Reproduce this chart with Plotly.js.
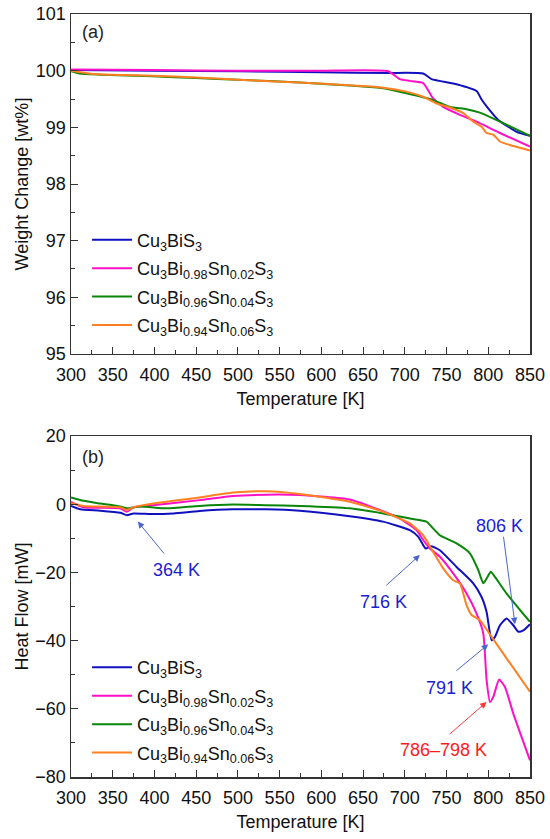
<!DOCTYPE html>
<html>
<head>
<meta charset="utf-8">
<script src="https://cdn.plot.ly/plotly-3.0.1.min.js"></script>
<style>html,body{margin:0;padding:0;background:#fff;}#chart{width:550px;height:839px;}</style>
</head>
<body>
<div id="chart"></div>
<script>
// ---- Series names ----
const names = [
  'Cu<sub>3</sub>BiS<sub>3</sub>',
  'Cu<sub>3</sub>Bi<sub>0.98</sub>Sn<sub>0.02</sub>S<sub>3</sub>',
  'Cu<sub>3</sub>Bi<sub>0.96</sub>Sn<sub>0.04</sub>S<sub>3</sub>',
  'Cu<sub>3</sub>Bi<sub>0.94</sub>Sn<sub>0.06</sub>S<sub>3</sub>'
];
const colors = ['#1010c0', '#ff10c8', '#0a860a', '#ff8020'];

// ---- (a) Weight change [wt%] ----
const tgT0 = [300, 400, 500, 600, 680, 722, 732, 762, 786, 792, 798, 812, 834, 850];
const tgW0 = [100.01, 100.0, 99.99, 99.97, 99.96, 99.95, 99.85, 99.76, 99.64, 99.49, 99.37, 99.13, 98.92, 98.85];
const tgT1 = [300, 400, 500, 600, 680, 694, 706, 722, 734, 746, 766, 786, 814, 850];
const tgW1 = [100.02, 100.01, 100.0, 100.0, 99.99, 99.85, 99.82, 99.78, 99.51, 99.36, 99.22, 99.10, 98.90, 98.66];
const tgT2 = [300, 310, 335, 398, 450, 500, 574, 674, 702, 734, 754, 774, 790, 814, 850];
const tgW2 = [99.99, 99.95, 99.93, 99.90, 99.87, 99.84, 99.79, 99.69, 99.60, 99.48, 99.36, 99.32, 99.26, 99.10, 98.85];
const tgT3 = [300, 327, 398, 450, 500, 574, 674, 702, 722, 738, 754, 770, 782, 792, 798, 806, 814, 830, 850];
const tgW3 = [100.0, 99.94, 99.91, 99.88, 99.84, 99.79, 99.70, 99.63, 99.54, 99.42, 99.35, 99.25, 99.10, 99.01, 98.90, 98.87, 98.75, 98.67, 98.59];

// ---- (b) Heat flow [mW] ----
const dsT0 = [300, 311, 335, 359, 367, 375, 398, 423, 454, 494, 534, 574, 634, 674, 706, 716, 722, 725, 732, 742, 762, 782, 792, 798, 804, 808, 814, 822, 830, 836, 842, 850];
const dsH0 = [-0.5, -1.5, -1.9, -2.5, -3.2, -2.7, -2.9, -2.7, -2.0, -1.5, -1.5, -1.9, -3.5, -5.1, -7.6, -9.5, -12, -13, -12.3, -13.5, -18.4, -23.2, -27.2, -31.6, -39.9, -38.9, -35.5, -33.5, -35.5, -37.4, -37, -35.2];
const dsT1 = [300, 315, 359, 367, 375, 398, 454, 494, 534, 574, 634, 670, 694, 714, 722, 730, 742, 758, 774, 786, 794, 798, 802, 806, 813, 820, 830, 850];
const dsH1 = [0.7, -0.9, -1.2, -2.2, -0.9, -0.3, 1.2, 2.4, 2.8, 2.7, 1.4, -1.7, -4.2, -7.6, -10.5, -13, -15.4, -20.3, -26.2, -32.1, -37.9, -51.6, -58, -56.5, -51.4, -53.6, -61.4, -75.1];
const dsT2 = [300, 315, 335, 359, 367, 383, 415, 454, 494, 534, 574, 634, 674, 706, 726, 732, 742, 762, 778, 788, 794, 798, 803, 808, 822, 850];
const dsH2 = [2.0, 1.0, 0.2, -0.7, -1.2, -0.7, -1.2, -0.5, -0.1, -0.3, -0.5, -1.2, -2.7, -4.2, -5.1, -6.6, -9.1, -11.5, -14.4, -19.3, -23.2, -21.8, -19.8, -21.3, -26.2, -34.5];
const dsT3 = [300, 315, 359, 367, 375, 398, 454, 494, 534, 574, 634, 674, 706, 722, 734, 746, 758, 766, 774, 780, 790, 804, 850];
const dsH3 = [0.4, -0.5, -0.9, -1.7, -0.9, 0.2, 2.0, 3.4, 3.8, 3.0, 0.7, -2.2, -5.6, -9.1, -14, -18.8, -22.3, -23.2, -29.6, -32.5, -34, -38.9, -55];

// ---- Annotations ----
const annLabels = ['364 K', '716 K', '806 K', '791 K', '786\u2013798 K'];
const annHeadT = [380, 718, 832, 800, 798];
const annHeadV = [-5.1, -14.9, -35.2, -41.1, -58];
const annTailT = [413, 676, 818, 760, 752];
const annTailV = [-14.9, -24.2, -9.1, -49.2, -67.8];
const annTextT = [427, 674, 814, 754, 746];
const annTextV = [-19.3, -28.6, -6.4, -54, -72.1];
const annTextColor = ['#1a22d0', '#1a22d0', '#1a22d0', '#1a22d0', '#ff1a1a'];
const annArrowColor = ['#4a66cc', '#4a66cc', '#4a66cc', '#4a66cc', '#ff3a3a'];

const tgT = [tgT0, tgT1, tgT2, tgT3], tgW = [tgW0, tgW1, tgW2, tgW3];
const dsT = [dsT0, dsT1, dsT2, dsT3], dsH = [dsH0, dsH1, dsH2, dsH3];

const FONT = '"Liberation Sans", Arial, sans-serif';
const FS = 18;
const traces = [];
for (let i = 0; i < 4; i++) {
  traces.push({x: tgT[i], y: tgW[i], xaxis: 'x', yaxis: 'y', name: names[i], legend: 'legend', legendgroup: 'a' + i,
    mode: 'lines', line: {color: colors[i], width: 2, shape: 'spline', smoothing: 0.5}});
}
for (let i = 0; i < 4; i++) {
  traces.push({x: dsT[i], y: dsH[i], xaxis: 'x2', yaxis: 'y2', name: names[i], legend: 'legend2', legendgroup: 'b' + i,
    mode: 'lines', line: {color: colors[i], width: 2, shape: 'spline', smoothing: 0.5}});
}

const annotations = [];
annotations.push({text: '(a)', xref: 'x', yref: 'y', x: 326, y: 100.68, showarrow: false, font: {family: FONT, size: FS, color: '#222'}});
annotations.push({text: '(b)', xref: 'x2', yref: 'y2', x: 326, y: 13.8, showarrow: false, font: {family: FONT, size: FS, color: '#222'}});
for (let i = 0; i < annLabels.length; i++) {
  annotations.push({text: '', xref: 'x2', yref: 'y2', axref: 'x2', ayref: 'y2',
    x: annHeadT[i], y: annHeadV[i], ax: annTailT[i], ay: annTailV[i], showarrow: true,
    arrowhead: 2, arrowsize: 1.3, arrowwidth: 1, arrowcolor: annArrowColor[i], standoff: 0, startstandoff: 0});
  annotations.push({text: annLabels[i], xref: 'x2', yref: 'y2', x: annTextT[i], y: annTextV[i], showarrow: false,
    font: {family: FONT, size: FS, color: annTextColor[i]}});
}

function axisX(extra) {
  return Object.assign({
    range: [300, 850], dtick: 50, tick0: 300, ticks: 'inside', ticklen: 7, tickwidth: 1, tickcolor: '#333',
    minor: {dtick: 25, ticklen: 4, tickcolor: '#333', ticks: 'inside'},
    showline: true, linecolor: '#333', linewidth: 1.5, mirror: true, showgrid: false, zeroline: false,
    ticklabelstandoff: 4,
    tickfont: {family: FONT, size: FS, color: '#111'}, fixedrange: true
  }, extra);
}
function axisY(extra) {
  return Object.assign({
    ticks: 'inside', ticklen: 7, tickwidth: 1, tickcolor: '#333',
    showline: true, linecolor: '#333', linewidth: 1.5, mirror: true, showgrid: false, zeroline: false,
    tickfont: {family: FONT, size: FS, color: '#111'}, fixedrange: true
  }, extra);
}

const layout = {
  width: 550, height: 839,
  margin: {l: 71, r: 20, t: 14, b: 62},
  paper_bgcolor: '#fff', plot_bgcolor: '#fff',
  font: {family: FONT, size: FS, color: '#111'},
  showlegend: true,
  xaxis: axisX({domain: [0, 1], anchor: 'y', title: {text: 'Temperature [K]', font: {family: FONT, size: FS}, standoff: 8}}),
  yaxis: axisY({domain: [0.5544, 1], anchor: 'x', range: [95, 101], dtick: 1,
    minor: {dtick: 0.5, ticklen: 4, tickcolor: '#333', ticks: 'inside'},
    title: {text: 'Weight Change [wt%]', font: {family: FONT, size: FS}, standoff: 2}}),
  xaxis2: axisX({domain: [0, 1], anchor: 'y2', title: {text: 'Temperature [K]', font: {family: FONT, size: FS}, standoff: 8}}),
  yaxis2: axisY({domain: [0, 0.4469], anchor: 'x2', range: [-80, 20], dtick: 20,
    minor: {dtick: 10, ticklen: 4, tickcolor: '#333', ticks: 'inside'},
    title: {text: 'Heat Flow [mW]', font: {family: FONT, size: FS}, standoff: 2}}),
  legend: {x: 0.035, y: 0.728, xanchor: 'left', yanchor: 'top', traceorder: 'grouped',
    bgcolor: 'rgba(0,0,0,0)', font: {family: FONT, size: FS, color: '#111'}, itemwidth: 40, tracegroupgap: 2},
  legend2: {x: 0.035, y: 0.4469 * 0.375, xanchor: 'left', yanchor: 'top', traceorder: 'grouped',
    bgcolor: 'rgba(0,0,0,0)', font: {family: FONT, size: FS, color: '#111'}, itemwidth: 40, tracegroupgap: 2},
  annotations: annotations
};

Plotly.newPlot('chart', traces, layout, {displayModeBar: false, staticPlot: true});
</script>
</body>
</html>
